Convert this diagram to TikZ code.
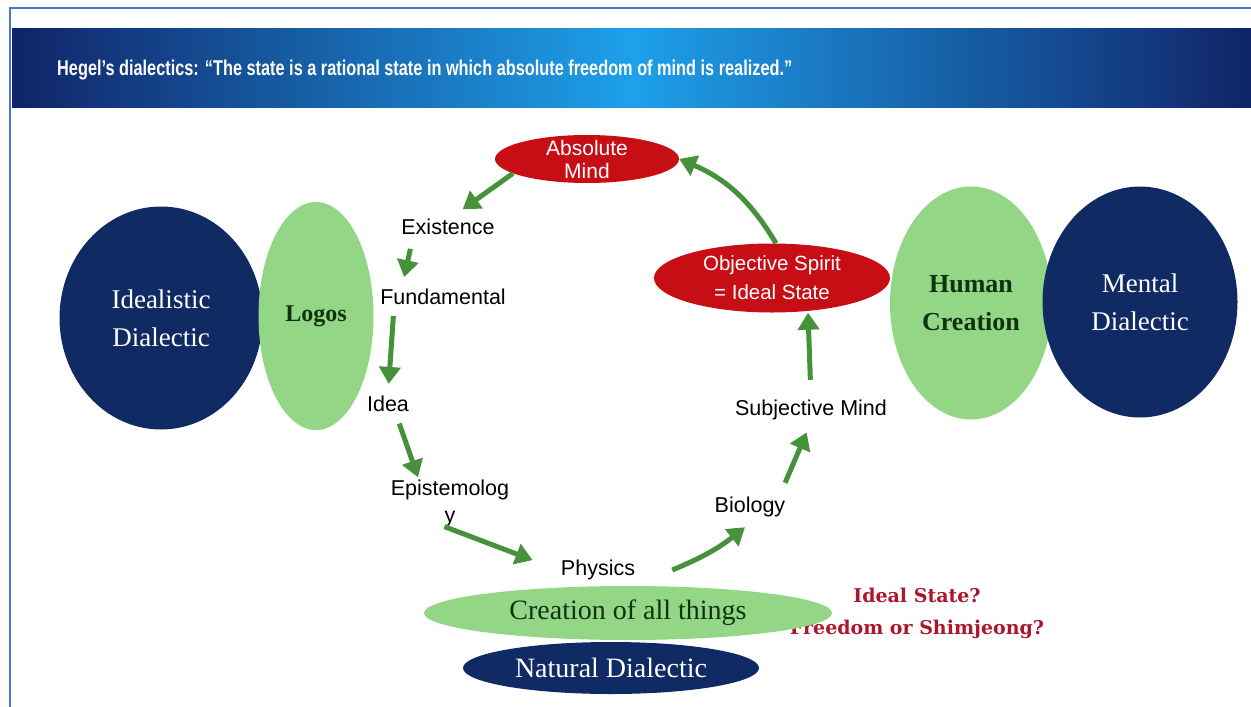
\documentclass[tikz,border=0pt]{standalone}
\usepackage{graphicx}
\usepackage{fontspec}
\setmainfont{Liberation Serif}
\setsansfont{Liberation Sans}
\newfontfamily\questionfont{DejaVu Serif}
\usetikzlibrary{arrows.meta,shapes.geometric}
\definecolor{navy}{RGB}{16,42,100}
\definecolor{leaf}{RGB}{146,214,134}
\definecolor{blood}{RGB}{198,14,20}
\definecolor{arrowgreen}{RGB}{70,146,58}
\definecolor{bandlight}{RGB}{30,160,234}
\definecolor{banddark}{RGB}{16,36,104}
\definecolor{frameblue}{RGB}{74,122,190}
\definecolor{question}{RGB}{172,22,42}
\definecolor{ink}{RGB}{16,50,16}
\newcommand*{\stagefont}{\fontsize{21.5}{27}\selectfont\sffamily}

\begin{document}
\begin{tikzpicture}[x=1pt, y=-1pt]
        \useasboundingbox (0,0) rectangle (1251,707);

        % title band
        \shade[left color=banddark, right color=banddark, middle color=bandlight]
          (12,28) rectangle (1251,107);
        \draw[frameblue, line width=1.5pt] (10,707) -- (10,8) -- (1251,8);
        \node[anchor=west, inner sep=0pt, text=white] (title) at (57,70)
          {\resizebox{735pt}{15.5pt}{\sffamily\bfseries Hegel’s dialectics: “The state is a rational state in which absolute freedom of mind is realized.”}};

        % question behind the bottom ellipse
        \node[text=question, align=center, font=\questionfont\bfseries\fontsize{19}{32}\selectfont]
          (question) at (917,613) {Ideal State?\\Freedom or Shimjeong?};

        {\tikzstyle{every node}=[ellipse, inner sep=0pt, align=center]
          \node[fill=navy, text=white, font=\fontsize{27}{38}\selectfont,
                minimum width=203pt, minimum height=223pt] (idealistic) at (161,318) {Idealistic\\Dialectic};
          \node[fill=leaf, text=ink, font=\bfseries\fontsize{24}{30}\selectfont,
                minimum width=115pt, minimum height=228pt] (logos) at (316,316) {Logos};
          \node[fill=leaf, text=ink, font=\bfseries\fontsize{26}{38}\selectfont,
                minimum width=162pt, minimum height=233pt] (human) at (971,303) {Human\\Creation};
          \node[fill=navy, text=white, font=\fontsize{27}{38}\selectfont,
                minimum width=195pt, minimum height=231pt] (mental) at (1140,302) {Mental\\Dialectic};
          \node[fill=leaf, text=ink, font=\fontsize{28}{30}\selectfont,
                minimum width=408pt, minimum height=54pt] (creation) at (628,613) {Creation of all things};
          \node[fill=navy, text=white, font=\fontsize{28}{30}\selectfont,
                minimum width=296pt, minimum height=52pt] (natural) at (611,668) {Natural Dialectic};
          \node[fill=blood, minimum width=184pt, minimum height=48pt,
                label={[text=white, align=center, font=\sffamily\fontsize{21}{23}\selectfont]center:Absolute\\Mind}]
                (absolute) at (587,159) {};
          \node[fill=blood, minimum width=236pt, minimum height=69pt,
                label={[text=white, align=center, font=\sffamily\fontsize{20.5}{29}\selectfont]center:Objective Spirit\\= Ideal State}]
                (objective) at (772,278) {};
        }

        % stages of the circle
        {\tikzstyle{every node}=[inner sep=2pt, align=center, font=\stagefont]
          \foreach \name/\pos/\word in {existence/{448,227}/Existence, fundamental/{443,297}/Fundamental,
                                        idea/{388,404}/Idea, epistemology/{450,503}/{Epistemolog\\y},
                                        physics/{598,570}/Physics, biology/{750,507}/Biology,
                                        subjective/{811,410}/Subjective Mind}
          {
            \node (\name) at (\pos) {\word};
          }
        }

        \tikzstyle{flow}=[arrowgreen, line width=5pt, -{Triangle[length=17pt,width=21pt]}]
        \draw[flow, shorten >=13pt] (absolute.191) -- ([xshift=4pt]existence.north);
        \draw[flow, shorten <=12pt, shorten >=10pt] ([xshift=-35pt]existence.south) -- ([xshift=-41pt]fundamental.north);
        \draw[flow, shorten <=9pt, shorten >=10pt] ([xshift=-49pt]fundamental.south) -- (idea.north);
        \draw[flow, shorten <=10pt] ([xshift=8pt]idea.south) -- ([xshift=-32pt]epistemology.north);
        \draw[flow, shorten <=-6pt, shorten >=28pt] (epistemology.south) -- (physics.west);
        \draw[flow] ([xshift=35pt]physics.east) to[bend right=8] ([xshift=-5pt, yshift=-8pt]biology.south);
        \draw[flow, shorten <=13pt, shorten >=11pt] ([xshift=30pt]biology.north) -- (subjective.south);
        \draw[flow, shorten <=18pt] (subjective.north) -- ([xshift=36pt]objective.south);
        \draw[flow] ([xshift=4pt]objective.north) to[bend right=18] (absolute.east);
\end{tikzpicture}
\end{document}
